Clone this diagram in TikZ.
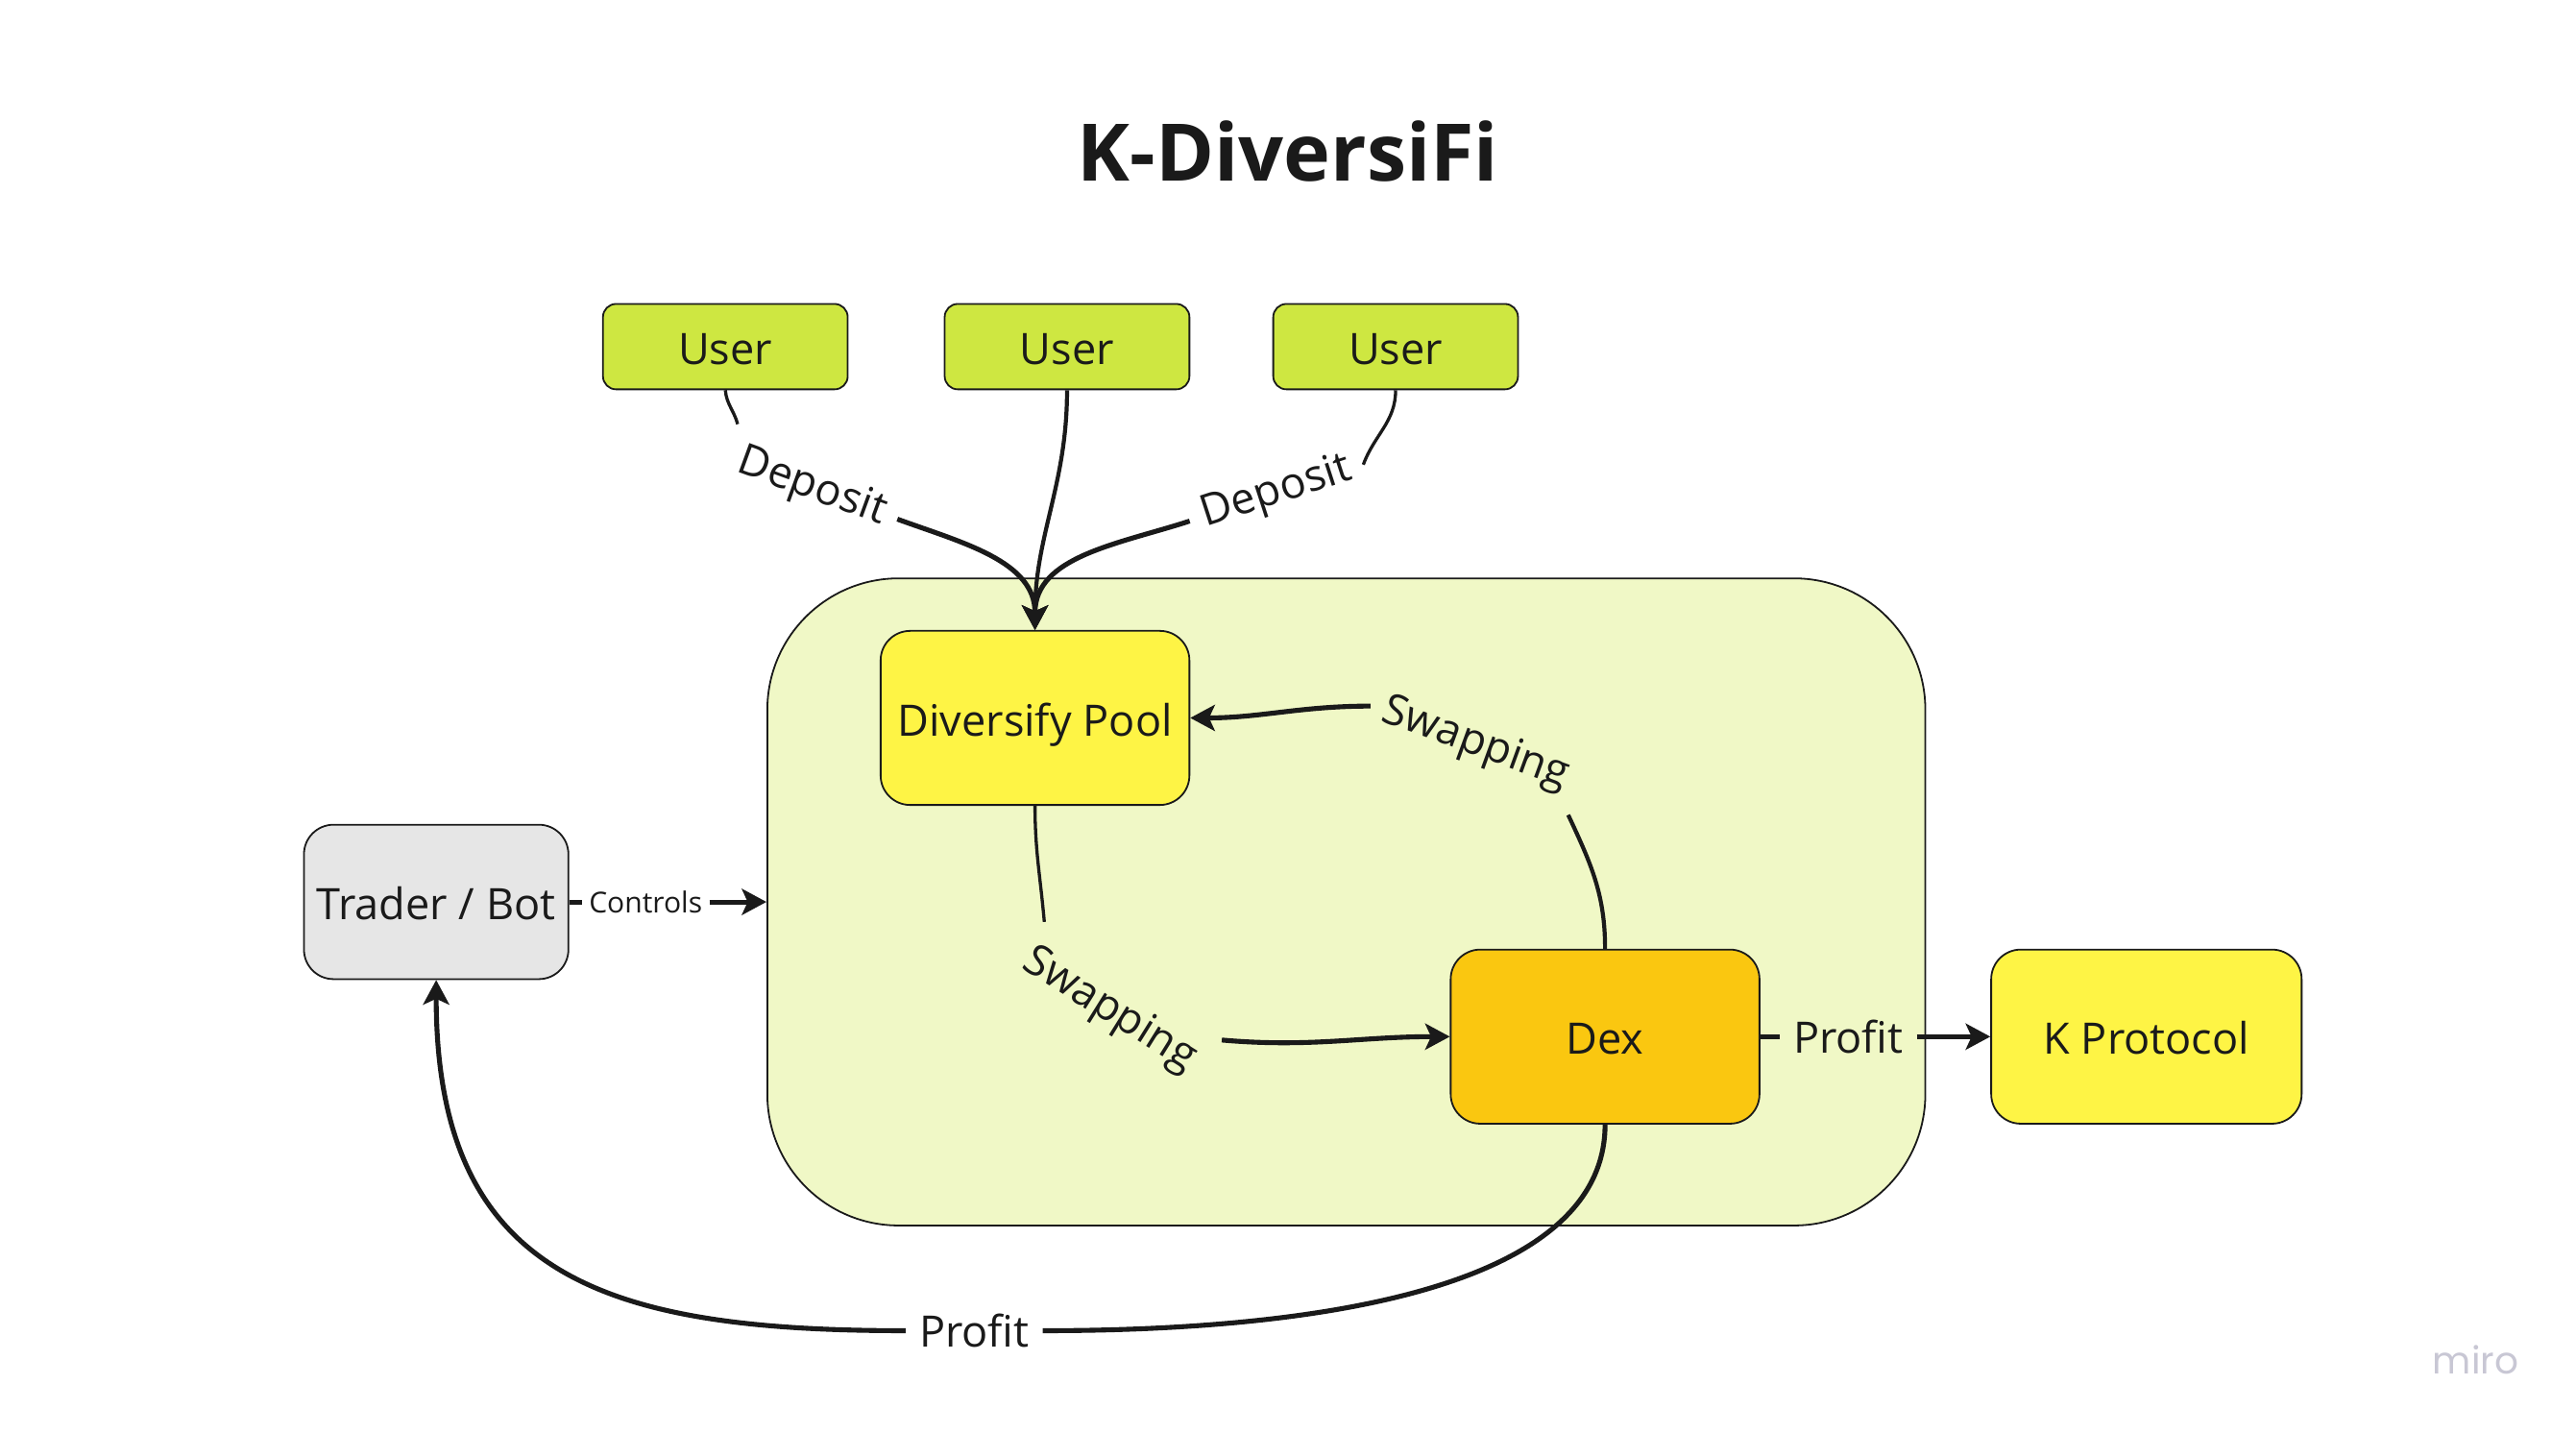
\documentclass[tikz,border=0pt]{standalone}
\usepackage{fontspec}
\setmainfont{Open Sans}
\newfontfamily\logofont{Poppins}
\usetikzlibrary{arrows.meta}
\definecolor{userc}{HTML}{CEE741}
\definecolor{poolc}{HTML}{FEF445}
\definecolor{dexc}{HTML}{FAC710}
\definecolor{tradc}{HTML}{E6E6E6}
\definecolor{contc}{HTML}{F0F8C6}
\definecolor{inkc}{HTML}{1A1A1A}
\definecolor{logoc}{HTML}{C8C7D4}
\begin{document}
\begin{tikzpicture}[x=0.02cm,y=-0.02cm,
  box/.style={draw=inkc, line width=0.6pt, text=inkc, font=\fontsize{15}{18}\selectfont, text height=12.4pt, text depth=0pt},
  lbl/.style={text=inkc, font=\fontsize{15}{18}\selectfont, inner sep=4.5pt},
  con/.style={draw=inkc, line width=1.7pt},
  thincon/.style={draw=inkc, line width=1.1pt},
  midcon/.style={draw=inkc, line width=1.4pt},
  arr/.style={-{Stealth[length=8.5pt,width=9pt,inset=2pt]}}]
\useasboundingbox (0,0) rectangle (1568,872);

\node[text=inkc, font=\bfseries\fontsize{27.5}{33}\selectfont] (title) at (784,92) {K-DiversiFi};

\node[box, fill=contc, rounded corners=1.6cm, minimum width=14.1cm, minimum height=7.88cm] (cont) at (819.5,549) {};

\node[box, fill=userc, rounded corners=0.16cm, minimum width=2.98cm, minimum height=1.04cm] (u1) at (441.5,211) {User};
\node[box, fill=userc, rounded corners=0.16cm, minimum width=2.98cm, minimum height=1.04cm] (u2) at (649.5,211) {User};
\node[box, fill=userc, rounded corners=0.16cm, minimum width=2.98cm, minimum height=1.04cm] (u3) at (849.5,211) {User};

\node[box, fill=poolc, rounded corners=0.36cm, minimum width=3.76cm, minimum height=2.12cm] (pool) at (630,437) {Diversify Pool};
\node[box, fill=tradc, rounded corners=0.36cm, minimum width=3.22cm, minimum height=1.88cm] (trader) at (265.5,549) {Trader / Bot};
\node[box, fill=dexc, rounded corners=0.36cm, minimum width=3.76cm, minimum height=2.12cm] (dex) at (977,631) {Dex};
\node[box, fill=poolc, rounded corners=0.36cm, minimum width=3.78cm, minimum height=2.12cm] (kp) at (1306.5,631) {K Protocol};

\node[lbl, rotate=-20] (dep1) at (494,297) {Deposit};
\node[lbl, rotate=18] (dep3) at (777,300) {Deposit};
\node[lbl, rotate=-32] (sw1) at (675,615) {Swapping};
\node[lbl, rotate=-20] (sw2) at (898,453) {Swapping};
\node[lbl, inner sep=2.3pt, font=\fontsize{10}{12}\selectfont] (ctl) at (393,549) {Controls};
\node[lbl] (pr1) at (1125,631) {Profit};
\node[lbl] (pr2) at (593,810) {Profit};

\draw[thincon] (u1.south) to[out=-85,in=105] (dep1.north west);
\draw[con,arr] (dep1.east) to[out=-20,in=90] (pool.north);
\draw[thincon] (u3.south) to[out=-90,in=70] (dep3.east);
\draw[con,arr] (dep3.west) to[out=198,in=90] (pool.north);
\draw[midcon,arr] (u2.south) to[out=-90,in=90] (pool.north);

\draw[thincon] (pool.south) to[out=-90,in=95] ([xshift=4pt]sw1.north west);
\draw[con,arr] (sw1.north east) to[out=-5,in=180] (dex.west);
\draw[midcon] (dex.north) to[out=90,in=-65] (sw2.south east);
\draw[con,arr] (sw2.west) to[out=180,in=0] (pool.east);

\draw[con] (trader.east) -- (ctl.west);
\draw[con,arr] (ctl.east) -- (cont.west);
\draw[con] (dex.east) -- (pr1.west);
\draw[con,arr] (pr1.east) -- (kp.west);
\draw[con] (dex.south) to[out=-90,in=0,looseness=0.8] (pr2.east);
\draw[con,arr] (pr2.west) to[out=180,in=-90,looseness=1.3] (trader.south);

\node[text=logoc, font=\logofont\fontsize{13}{15}\selectfont] (miro) at (1507,828) {miro};
\end{tikzpicture}
\end{document}
